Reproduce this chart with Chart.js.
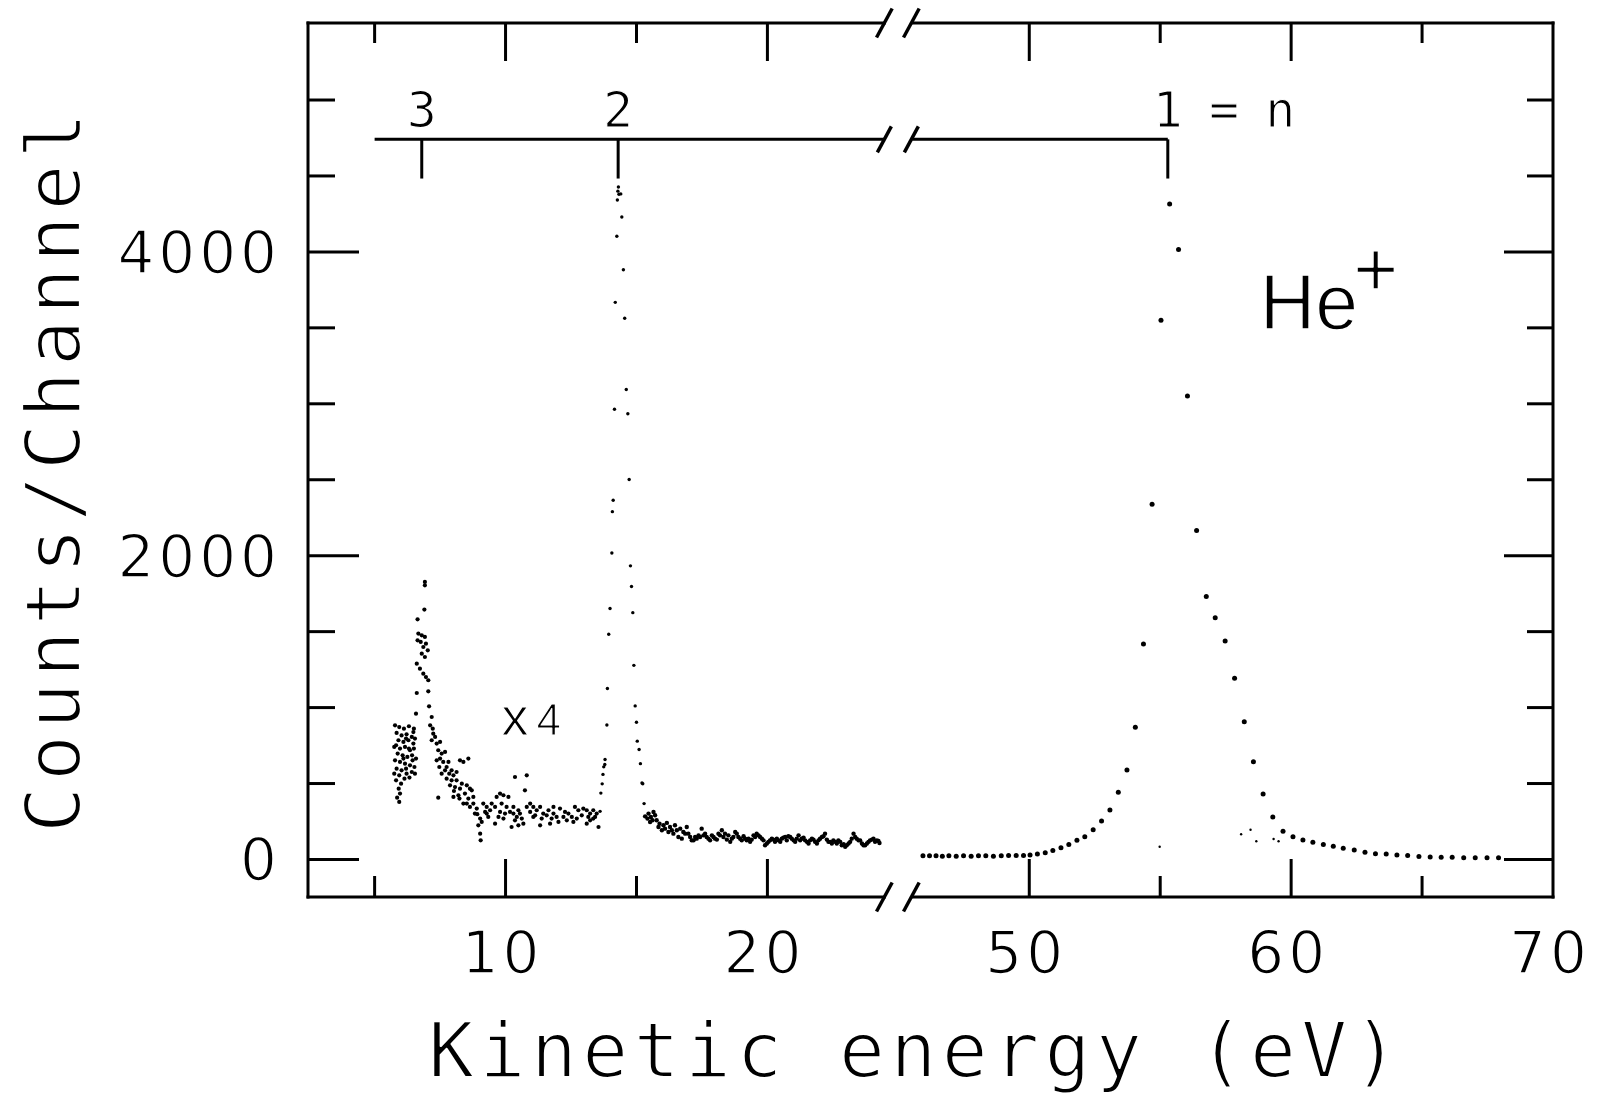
<!DOCTYPE html>
<html>
<head>
<meta charset="utf-8">
<title>He+ kinetic energy spectrum</title>
<script src="https://cdn.jsdelivr.net/npm/chart.js@4.4.1/dist/chart.umd.min.js"></script>
<style>
  html, body { margin: 0; padding: 0; background: #ffffff; }
  #wrap { width: 1599px; height: 1094px; }
</style>
</head>
<body>
<div id="wrap"><canvas id="spectrum" width="1599" height="1094"></canvas></div>
<script>
'use strict';

// ---------------------------------------------------------------------------
// Data (energy in eV, counts per channel)
// ---------------------------------------------------------------------------

// n = 3 region, left cluster (shown x4)
const clusterLow = [
  [5.78, 883], [5.94, 872], [6.12, 861], [6.31, 877], [6.50, 861], [5.84, 833],
  [6.03, 817], [6.22, 824], [6.42, 807], [6.54, 796], [5.91, 785], [6.10, 774],
  [6.29, 785], [6.48, 763], [5.82, 752], [5.97, 730], [6.16, 741], [6.35, 719],
  [6.50, 730], [5.88, 697], [6.07, 686], [6.25, 675], [6.43, 686], [6.58, 664],
  [5.78, 653], [5.97, 642], [6.16, 631], [6.35, 620], [6.52, 609], [5.84, 598],
  [6.03, 587], [6.22, 565], [6.42, 576], [5.94, 554], [6.14, 532], [6.33, 539],
  [5.82, 521], [6.01, 499], [5.92, 466], [5.97, 434], [5.86, 407], [5.94, 379],
  [6.48, 839], [6.20, 796], [6.31, 730], [6.10, 664], [6.45, 653], [6.20, 598],
  [6.54, 565], [5.75, 565], [5.75, 741]
];

// n = 3 peak
const peakN3 = [
  [6.58, 960], [6.61, 1096], [6.61, 1289], [6.64, 1443], [6.67, 1487], [6.64, 1581],
  [6.73, 1256], [6.76, 1432], [6.80, 1476], [6.80, 1355], [6.86, 1223], [6.86, 1399],
  [6.90, 1645], [6.92, 1827], [6.92, 1805], [6.92, 1465], [6.92, 1333], [6.96, 1421],
  [6.96, 1201], [7.03, 1377], [7.05, 1180], [7.05, 1107], [7.08, 1008], [7.12, 883],
  [7.18, 938], [7.22, 861], [7.24, 828], [7.31, 807], [7.18, 785], [7.37, 763],
  [7.50, 774]
];

// n = 3 high-energy tail up to the n = 2 peak
const tailN3 = [
  [7.43, 719], [7.56, 697], [7.69, 708], [7.50, 664], [7.37, 653], [7.62, 642],
  [7.82, 642], [7.75, 609], [7.47, 609], [7.69, 587], [7.94, 587], [7.56, 565],
  [7.85, 565], [8.01, 554], [8.13, 576], [8.26, 653], [8.39, 642], [8.58, 664],
  [7.75, 532], [7.94, 521], [8.13, 521], [8.33, 499], [8.07, 477], [8.26, 466],
  [8.52, 488], [8.64, 466], [8.45, 434], [8.71, 455], [8.77, 412], [8.58, 401],
  [7.43, 407], [8.01, 412], [8.20, 423], [8.39, 368], [8.64, 346], [8.90, 335],
  [8.83, 302], [9.03, 269], [9.09, 247], [8.96, 225], [9.03, 170], [9.05, 126],
  [9.15, 368], [9.28, 346], [9.47, 368], [9.66, 412], [9.79, 434], [9.92, 423],
  [10.11, 412], [9.85, 368], [10.04, 346], [10.17, 313], [10.30, 302], [10.43, 280],
  [10.55, 302], [10.36, 258], [10.23, 214], [10.49, 225], [10.68, 236], [10.81, 346],
  [10.94, 368], [11.06, 346], [11.19, 324], [11.32, 346], [11.44, 302], [11.64, 324],
  [11.83, 346], [11.95, 280], [11.76, 269], [12.08, 335], [12.27, 313], [12.34, 258],
  [12.53, 280], [12.65, 346], [12.78, 324], [12.91, 291], [13.10, 324], [13.23, 302],
  [13.35, 324], [13.42, 280], [13.55, 214], [13.10, 236], [13.23, 258], [10.36, 543],
  [10.81, 554], [10.74, 455], [11.06, 280], [11.32, 225], [11.70, 236], [9.60, 236],
  [9.73, 280], [9.92, 269], [9.34, 280], [9.22, 313], [7.88, 488], [8.03, 451],
  [8.24, 401], [8.52, 368], [8.77, 368], [8.92, 298], [9.28, 302], [9.41, 324],
  [9.60, 346], [9.79, 313], [9.98, 302], [10.30, 346], [10.49, 324], [10.62, 269],
  [10.94, 313], [11.13, 291], [11.38, 269], [11.57, 291], [11.83, 302], [12.02, 247],
  [12.21, 280], [12.40, 302], [12.59, 247], [12.72, 269], [12.97, 335], [13.16, 280],
  [13.35, 269], [13.48, 302]
];

// n = 2 peak
const peakN2 = [
  [13.61, 317], [13.64, 437], [13.69, 498], [13.72, 560], [13.75, 610], [13.79, 625],
  [13.80, 658], [13.87, 885], [13.89, 1126], [13.94, 1483], [13.99, 1652], [14.06, 2018],
  [14.08, 2290], [14.11, 2365], [14.16, 2964], [14.19, 3668], [14.25, 4103], [14.27, 4342],
  [14.29, 4400], [14.31, 4427], [14.33, 4380], [14.40, 4382], [14.44, 4230], [14.50, 3883],
  [14.55, 3563], [14.61, 3094], [14.67, 2934], [14.72, 2502], [14.77, 1933], [14.81, 1797],
  [14.86, 1625], [14.90, 1278], [14.95, 1011], [15.00, 903], [15.03, 779], [15.10, 724],
  [15.15, 631], [15.21, 504], [15.24, 499], [15.29, 368]
];

// n = 2 high-energy tail up to the axis break
const tailN2 = [
  [15.33, 284], [15.46, 302], [15.55, 280], [15.65, 313], [15.71, 291], [15.52, 247],
  [15.77, 258], [15.88, 236], [15.97, 192], [16.03, 225], [16.16, 241], [16.28, 214],
  [16.35, 192], [16.47, 225], [16.60, 148], [16.67, 203], [16.79, 181], [16.92, 214],
  [16.98, 170], [17.11, 126], [17.24, 148], [17.37, 159], [17.49, 203], [17.62, 170],
  [17.75, 137], [17.88, 159], [18.00, 137], [18.13, 170], [18.26, 192], [18.38, 170],
  [18.51, 159], [18.58, 116], [18.64, 137], [18.77, 181], [18.89, 148], [19.02, 126],
  [19.15, 137], [19.34, 116], [19.47, 159], [19.59, 170], [19.72, 148], [19.85, 126],
  [19.91, 94], [20.04, 116], [20.17, 137], [20.29, 116], [20.42, 126], [20.55, 137],
  [20.68, 148], [20.80, 153], [20.93, 137], [21.06, 116], [21.19, 159], [21.31, 137],
  [21.44, 126], [21.57, 105], [21.70, 137], [21.82, 116], [21.95, 126], [22.08, 148],
  [22.20, 170], [22.33, 116], [22.46, 105], [22.59, 116], [22.71, 126], [22.84, 94],
  [22.97, 83], [23.10, 105], [23.22, 137], [23.29, 170], [23.41, 137], [23.54, 126],
  [23.67, 94], [23.80, 105], [23.92, 126], [24.05, 137], [24.18, 126], [24.28, 109],
  [15.42, 269], [15.61, 258], [15.84, 214], [16.09, 203], [16.22, 181], [16.41, 170],
  [16.54, 192], [16.73, 137], [16.86, 170], [17.05, 148], [17.18, 126], [17.30, 137],
  [17.43, 148], [17.56, 159], [17.68, 148], [17.81, 126], [17.94, 148], [18.07, 131],
  [18.19, 159], [18.32, 148], [18.45, 131], [18.70, 148], [18.83, 170], [18.96, 137],
  [19.09, 153], [19.21, 126], [19.28, 137], [19.40, 131], [19.53, 148], [19.66, 159],
  [19.79, 137], [19.98, 105], [20.10, 126], [20.23, 131], [20.36, 137], [20.49, 116],
  [20.61, 144], [20.74, 126], [20.87, 148], [21.00, 126], [21.12, 137], [21.25, 126],
  [21.38, 144], [21.51, 116], [21.63, 126], [21.76, 131], [21.89, 105], [22.01, 137],
  [22.14, 153], [22.27, 131], [22.40, 116], [22.52, 126], [22.65, 105], [22.78, 116],
  [22.91, 100], [23.03, 94], [23.16, 116], [23.35, 148], [23.48, 126], [23.61, 105],
  [23.73, 94], [23.86, 116], [23.99, 131], [24.11, 116], [24.24, 122]
];

// n = 1 peak, right of the break
const peakN1 = [
  [45.94, 24], [46.19, 24], [46.44, 24], [46.68, 22], [46.93, 24], [47.21, 22],
  [47.49, 24], [47.78, 22], [48.06, 24], [48.34, 24], [48.63, 22], [48.93, 24],
  [49.21, 26], [49.50, 26], [49.78, 26], [50.03, 29], [50.31, 36], [50.61, 44],
  [50.90, 59], [51.21, 78], [51.51, 99], [51.82, 126], [52.12, 150], [52.44, 196],
  [52.76, 253], [53.08, 325], [53.40, 443], [53.73, 589], [54.05, 870], [54.36, 1419],
  [54.69, 2338], [55.03, 3550], [55.36, 4315], [55.70, 4016], [56.04, 3052], [56.39, 2166],
  [56.76, 1731], [57.10, 1592], [57.48, 1438], [57.84, 1193], [58.21, 906], [58.56, 643],
  [58.93, 431], [59.30, 280], [59.69, 186], [60.07, 150], [60.45, 129], [60.83, 114],
  [61.23, 99], [61.61, 87], [61.99, 74], [62.41, 63], [62.82, 47], [63.22, 38],
  [63.63, 36], [64.04, 29], [64.45, 26], [64.88, 20], [65.31, 17], [65.73, 14],
  [66.15, 14], [66.59, 11], [67.03, 11], [67.48, 11], [67.92, 11]
];

// faint extra dots near the n = 1 peak foot
const faintN1 = [[54.98, 84], [58.09, 166], [58.45, 196], [58.67, 120], [59.33, 135], [59.52, 120]];

// axes
const X_MAJOR = [10, 20, 50, 60, 70];
const X_MINOR = [5, 15, 55, 65];
const X_LABELS = ['10', '20', '50', '60', '70'];
const Y_MAJOR = [0, 2000, 4000];
const Y_MINOR = [500, 1000, 1500, 2500, 3000, 3500, 4500, 5000];
const Y_LABELS = ['0', '2000', '4000'];

// broken x axis: 25 eV on the left joins 45 eV on the right
const BREAK_LOW_E = 25;
const BREAK_HIGH_E = 45;

// He+ levels (energy where the n-th level line sits)
const LEVEL_E = [6.8, 14.3, 55.29];
const LEVEL_TEXT = ['3', '2', '1 = n'];
const LEVEL_START_E = 5;
const LEVEL_COUNTS = 4741;      // height of the level ladder
const LEVEL_TICK_END = 4483;    // lower end of each level marker

const X_TITLE = 'Kinetic energy (eV)';
const Y_TITLE = 'Counts/Channel';

const INK = '#000000';

// ---------------------------------------------------------------------------
// Helpers
// ---------------------------------------------------------------------------

/** Energy -> position on the (compressed) linear axis. */
function toAxis(e) {
  return e >= BREAK_HIGH_E ? e - (BREAK_HIGH_E - BREAK_LOW_E) : e;
}

function toPoints(pairs) {
  return pairs.map(([e, c]) => ({ x: toAxis(e), y: c }));
}

function dotSet(pairs, radius) {
  return {
    data: toPoints(pairs),
    showLine: false,
    pointRadius: radius,
    pointHoverRadius: radius,
    pointBorderWidth: 0,
    backgroundColor: INK,
    borderColor: INK,
  };
}

// thin-stroke text: fill, then shave the outline with white (plotter look)
function thinText(ctx, text, x, y, shave) {
  ctx.fillText(text, x, y);
  if (shave > 0) {
    ctx.save();
    ctx.strokeStyle = '#ffffff';
    ctx.lineWidth = shave;
    ctx.lineJoin = 'round';
    ctx.strokeText(text, x, y);
    ctx.restore();
  }
}

// ---------------------------------------------------------------------------
// Frame, ticks, level ladder and text
// ---------------------------------------------------------------------------

const framePlugin = {
  id: 'frame',
  beforeDraw(chart) {
    const { ctx, width, height } = chart;
    ctx.save();
    ctx.fillStyle = '#ffffff';
    ctx.fillRect(0, 0, width, height);
    ctx.restore();
  },
  afterDatasetsDraw(chart) {
    const { ctx, chartArea: a, scales: { x, y } } = chart;
    const px = (e) => x.getPixelForValue(toAxis(e));
    const py = (v) => y.getPixelForValue(v);
    const bx = x.getPixelForValue(BREAK_LOW_E);

    const seg = (x1, y1, x2, y2) => {
      ctx.beginPath();
      ctx.moveTo(x1, y1);
      ctx.lineTo(x2, y2);
      ctx.stroke();
    };
    // "//" break mark crossing a horizontal line at height yy
    const breakMark = (yy, left, right) => {
      seg(left, yy, bx - 14, yy);
      seg(bx + 14, yy, right, yy);
      ctx.save();
      ctx.lineWidth = 3.5;
      for (const cx of [bx - 14, bx + 13]) seg(cx - 7, yy + 13, cx + 7, yy - 13);
      ctx.restore();
    };

    ctx.save();
    ctx.strokeStyle = INK;
    ctx.fillStyle = INK;
    ctx.lineWidth = 3;
    ctx.lineCap = 'square';

    // frame
    seg(a.left, a.top, a.left, a.bottom);
    seg(a.right, a.top, a.right, a.bottom);
    breakMark(a.top, a.left, a.right);
    breakMark(a.bottom, a.left, a.right);

    ctx.lineCap = 'butt';
    // x ticks, pointing inward from top and bottom
    X_MAJOR.forEach((e) => {
      const xx = px(e);
      if (xx > a.right - 2) return;
      seg(xx, a.bottom, xx, a.bottom - 38);
      seg(xx, a.top, xx, a.top + 38);
    });
    X_MINOR.forEach((e) => {
      const xx = px(e);
      seg(xx, a.bottom, xx, a.bottom - 21);
      seg(xx, a.top, xx, a.top + 20);
    });
    // y ticks, left and right
    Y_MAJOR.forEach((v) => {
      const yy = py(v);
      seg(a.left, yy, a.left + 51, yy);
      seg(a.right, yy, a.right - 49, yy);
    });
    Y_MINOR.forEach((v) => {
      const yy = py(v);
      seg(a.left, yy, a.left + 27, yy);
      seg(a.right, yy, a.right - 26, yy);
    });

    // level ladder
    const ly = py(LEVEL_COUNTS);
    breakMark(ly, px(LEVEL_START_E), px(LEVEL_E[2]));
    LEVEL_E.forEach((e) => seg(px(e), ly, px(e), py(LEVEL_TICK_END)));

    ctx.textBaseline = 'alphabetic';
    ctx.font = '50px "DejaVu Sans Mono"';
    ctx.letterSpacing = '-2px';
    ctx.textAlign = 'left';
    const cell = ctx.measureText('1').width;
    LEVEL_TEXT.forEach((t, i) => {
      thinText(ctx, t, px(LEVEL_E[i]) - cell / 2 - 1, ly - 12, 1.2);
    });

    // tick labels
    ctx.font = '58px "DejaVu Sans"';
    ctx.letterSpacing = '4px';
    ctx.textAlign = 'right';
    Y_MAJOR.forEach((v, i) => thinText(ctx, Y_LABELS[i], a.left - 27, py(v) + 21, 1.6));
    ctx.textAlign = 'center';
    X_MAJOR.forEach((e, i) => thinText(ctx, X_LABELS[i], px(e) - 3, a.bottom + 76, 1.6));

    // axis titles
    ctx.font = '77px "DejaVu Sans Mono"';
    ctx.letterSpacing = '5px';
    ctx.textAlign = 'left';
    thinText(ctx, X_TITLE, a.left + 120, a.bottom + 180, 2.2);

    ctx.save();
    ctx.letterSpacing = '5.5px';
    ctx.translate(a.left - 228, a.bottom - 64);
    ctx.rotate(-Math.PI / 2);
    thinText(ctx, Y_TITLE, 0, 0, 2.2);
    ctx.restore();

    // annotations
    ctx.letterSpacing = '0px';
    ctx.font = '77px "Liberation Sans"';
    const heX = px(58.8);
    const heY = py(3490);
    thinText(ctx, 'He', heX, heY, 1.5);
    thinText(ctx, '+', heX + ctx.measureText('He').width - 5, heY - 33, 1.5);

    ctx.font = '54px "Liberation Sans"';
    const x4X = px(9.85);
    const x4Y = py(820);
    thinText(ctx, 'x', x4X, x4Y, 1.2);
    ctx.font = '44px "Liberation Sans"';
    thinText(ctx, '4', x4X + 35, x4Y, 1.2);

    ctx.restore();
  },
};

// ---------------------------------------------------------------------------
// Chart
// ---------------------------------------------------------------------------

new Chart(document.getElementById('spectrum'), {
  type: 'scatter',
  data: {
    datasets: [
      dotSet(clusterLow, 2.1),
      dotSet(peakN3, 2.1),
      dotSet(tailN3, 2.1),
      dotSet(peakN2, 1.7),
      dotSet(tailN2, 2.2),
      dotSet(peakN1, 2.5),
      dotSet(faintN1, 1.2),
    ],
  },
  options: {
    responsive: false,
    animation: false,
    devicePixelRatio: 1,
    layout: { padding: { left: 308, right: 46, top: 23, bottom: 197 } },
    plugins: { legend: { display: false }, tooltip: { enabled: false } },
    scales: {
      x: { type: 'linear', min: 2.456, max: 50, display: false },
      y: { type: 'linear', min: -247, max: 5507, display: false },
    },
  },
  plugins: [framePlugin],
});
</script>
</body>
</html>
